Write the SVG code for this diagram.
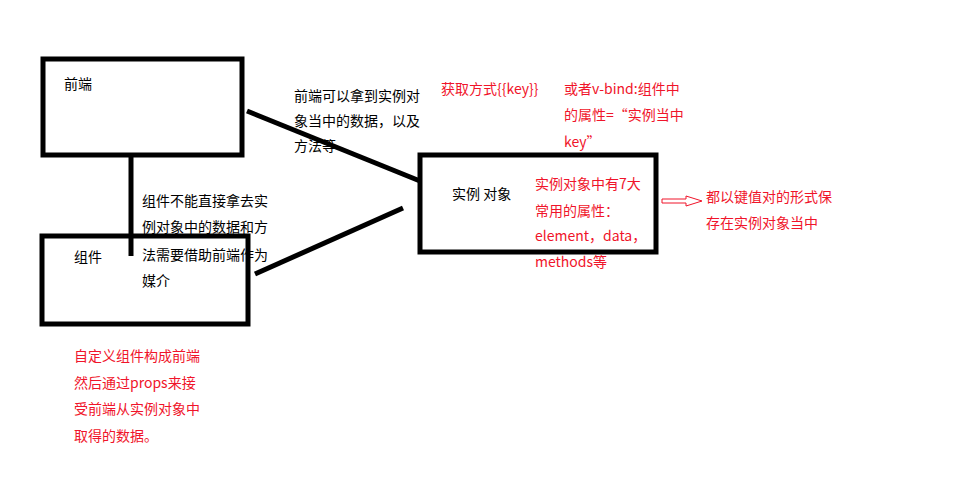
<svg xmlns="http://www.w3.org/2000/svg" width="979" height="504" viewBox="0 0 979 504">
<style>
.b{fill:none;stroke:#000;stroke-width:5}
.l{stroke:#000;stroke-width:5}
text{font-family:"Microsoft YaHei","Noto Sans CJK SC",sans-serif;font-size:14px}
.k{fill:#000}.r{fill:#f0142a}
</style>
<rect width="979" height="504" fill="#fff"/>
<g id="connectors">
<line class="l" x1="247" y1="111" x2="420" y2="181"/>
<line class="l" x1="255" y1="274" x2="403" y2="208"/>
<line class="l" x1="131" y1="157" x2="131" y2="256"/>
<path d="M662,199 H686 V196 L702,201 L686,206 V203 H662 Z" fill="none" stroke="#f0142a" stroke-width="1"/>
</g>
<g id="frontend"><rect class="b" x="43" y="59" width="199" height="96"/><text class="k" x="64" y="89">前端</text></g>
<g id="component"><rect class="b" x="42" y="236" width="206" height="88"/><text class="k" x="74" y="262">组件</text></g>
<g id="instance"><rect class="b" x="420" y="155" width="236" height="97"/><text class="k" x="452" y="199">实例 对象</text></g>
<g id="labels">
<text class="k" x="294" y="101">前端可以拿到实例对</text>
<text class="k" x="294" y="126">象当中的数据，以及</text>
<text class="k" x="294" y="151">方法等</text>
<text class="r" x="441" y="94">获取方式{{key}}</text>
<text class="r" x="564" y="94">或者v-bind:组件中</text>
<text class="r" x="564" y="120">的属性=“实例当中</text>
<text class="r" x="564" y="147">key”</text>
<text class="r" x="535" y="189">实例对象中有7大</text>
<text class="r" x="535" y="216">常用的属性：</text>
<text class="r" x="535" y="241">element，data，</text>
<text class="r" x="535" y="267">methods等</text>
<text class="r" x="706" y="202">都以键值对的形式保</text>
<text class="r" x="706" y="228">存在实例对象当中</text>
<text class="k" x="142" y="206">组件不能直接拿去实</text>
<text class="k" x="142" y="232">例对象中的数据和方</text>
<text class="k" x="142" y="260">法需要借助前端作为</text>
<text class="k" x="142" y="286">媒介</text>
<text class="r" x="74" y="361">自定义组件构成前端</text>
<text class="r" x="74" y="388">然后通过props来接</text>
<text class="r" x="74" y="414">受前端从实例对象中</text>
<text class="r" x="74" y="441">取得的数据。</text>
</g>
</svg>
